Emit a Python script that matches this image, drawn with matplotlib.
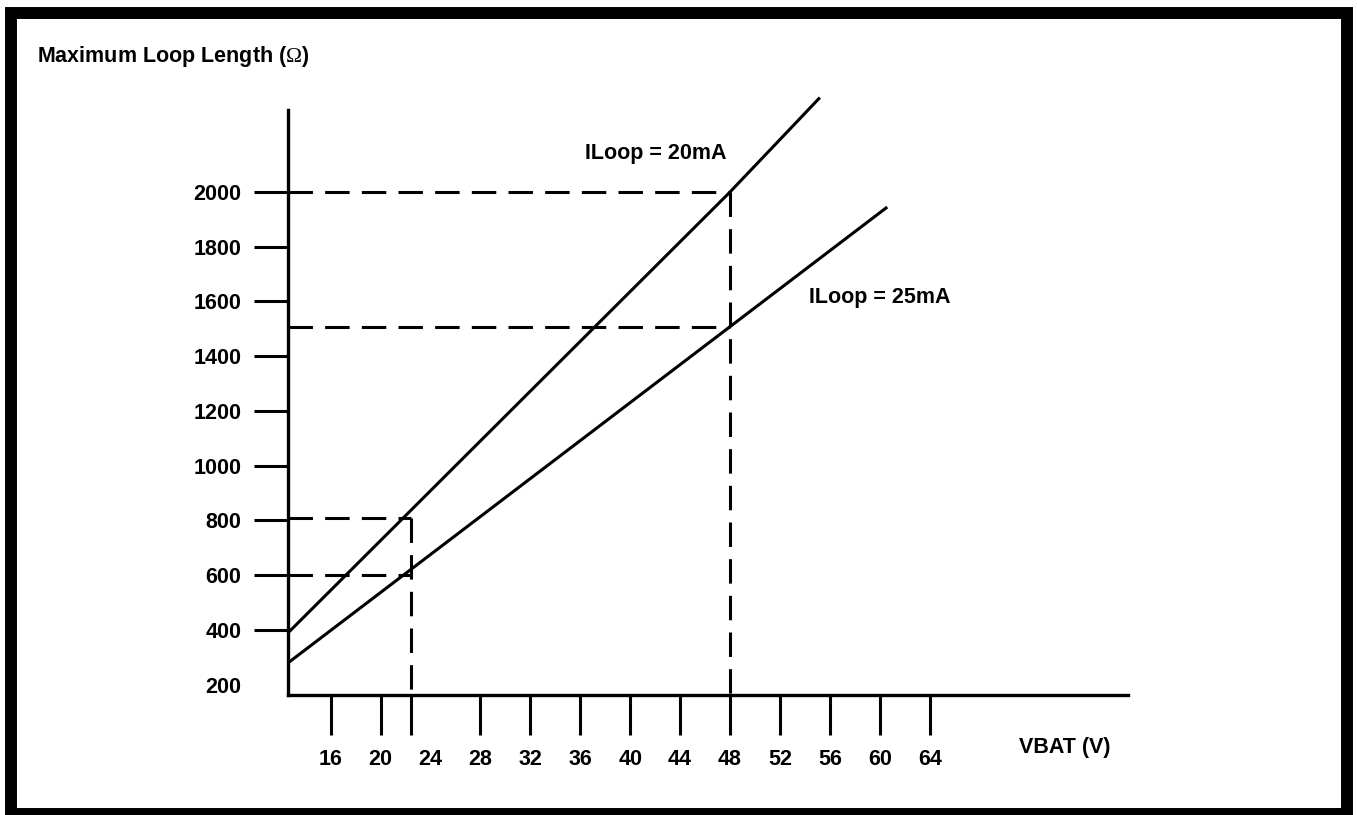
import matplotlib
matplotlib.use("Agg")
import matplotlib.pyplot as plt
from matplotlib.patches import Rectangle

# values (VBAT in volts, loop length in ohms)
vbat_20 = [12.6, 48, 55.2]
r_20 = [390, 2000, 2345]
vbat_25 = [12.6, 60.6]
r_25 = [280, 1945]

guide_v = [22.4, 48]
guide_r20 = [810, 2000]
guide_r25 = [600, 1507]

xticks = [16, 20, 24, 28, 32, 36, 40, 44, 48, 52, 56, 60, 64]
yticks = [200, 400, 600, 800, 1000, 1200, 1400, 1600, 1800, 2000]

plt.rcParams['font.family'] = ['Liberation Sans', 'DejaVu Sans']
plt.rcParams['font.weight'] = 'bold'
plt.rcParams['axes.labelweight'] = 'bold'
plt.rcParams['font.size'] = 15.5
plt.rcParams['mathtext.fontset'] = 'custom'
plt.rcParams['mathtext.rm'] = 'Liberation Serif:weight=normal'

fig = plt.figure(figsize=(13.57, 8.15), dpi=100)
ax = fig.add_axes([0.21223, 0.14724, 0.61901, 0.71779])
xmin, xmax = 12.58, 79.89
ymin, ymax = 162.1, 2299.6
ax.set_xlim(xmin, xmax)
ax.set_ylim(ymin, ymax)

lw = 2.2
ax.plot(vbat_20, r_20, color='black', lw=lw, clip_on=False, solid_capstyle='butt')
ax.plot(vbat_25, r_25, color='black', lw=lw, clip_on=False, solid_capstyle='butt')

# dashed guides
for v, a, b in zip(guide_v, guide_r20, guide_r25):
    ax.plot([v, v], [a, ymin], color='black', lw=lw, dashes=(8, 4), clip_on=False)
    ax.plot([xmin, v], [a, a], color='black', lw=lw, dashes=(8, 4), clip_on=False)
    ax.plot([xmin, v], [b, b], color='black', lw=lw, dashes=(8, 4), clip_on=False)

for s in ['top', 'right']:
    ax.spines[s].set_visible(False)
for s in ['left', 'bottom']:
    ax.spines[s].set_linewidth(2.4)

ax.set_xticks(xticks)
ax.set_xticklabels([str(t) for t in xticks])
ax.set_xticks([guide_v[0]], minor=True)
ax.set_yticks(yticks)
ax.set_yticklabels([str(t) for t in yticks])
ax.tick_params(axis='x', which='both', direction='out', length=28.8, width=lw, pad=10)
ax.tick_params(axis='y', direction='out', length=24.5, width=lw, pad=9)

for t, v in zip(ax.xaxis.get_major_ticks(), xticks):
    if v == 24:
        t.tick1line.set_visible(False)
for t, v in zip(ax.yaxis.get_major_ticks(), yticks):
    if v == 200:
        t.tick1line.set_visible(False)

ax.set_xlabel('VBAT (V)')
ax.xaxis.set_label_coords(0.925, -0.0718)
ax.set_ylabel(r'Maximum Loop Length ($\mathrm{\Omega}$)', rotation=0, ha='left', va='center')
ax.yaxis.set_label_coords(-0.2988, 1.0915)

ax.text(42.07, 2142, 'ILoop = 20mA', ha='center', va='center')
ax.text(60.0, 1616, 'ILoop = 25mA', ha='center', va='center')

fig.add_artist(Rectangle((0.0081, 0.00123), 0.98489, 0.98282, transform=fig.transFigure,
                         fill=False, ec='black', lw=8.6))

fig.savefig('out.png', dpi=100)
